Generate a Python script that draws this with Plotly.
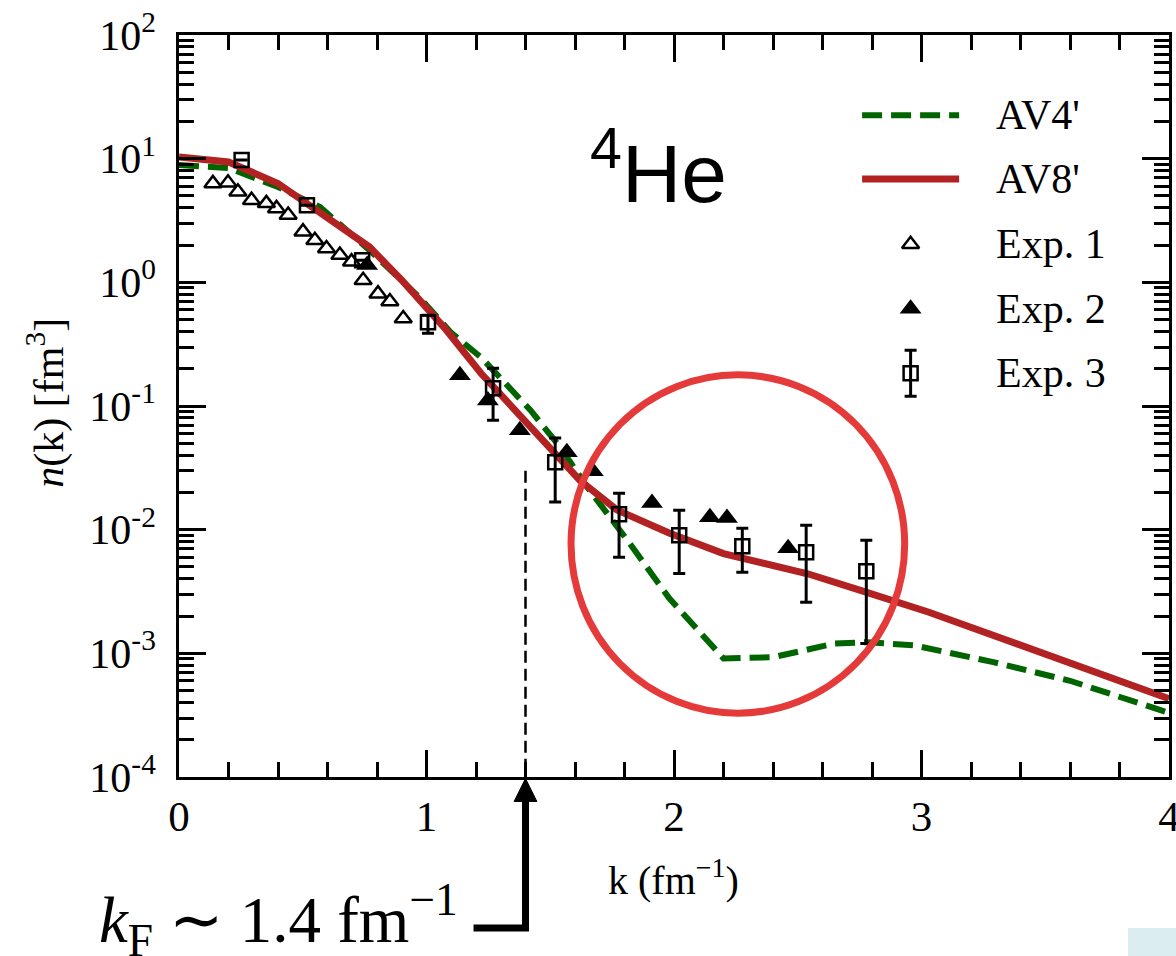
import plotly.graph_objects as go

# ---------------- data ----------------
# AV4' (green dashed) momentum distribution
k_av4 = [0.0, 0.2, 0.4, 0.57, 0.77, 0.97, 1.1, 1.22, 1.42, 1.54, 1.65, 1.82, 1.98, 2.13, 2.2,
         2.4, 2.65, 2.78, 2.97, 3.29, 3.6, 4.0]
n_av4 = [8.9, 8.4, 5.9, 4.06, 1.82, 0.76, 0.39, 0.248, 0.0925, 0.0465, 0.022, 0.0078, 0.0028,
         0.00127, 0.00091, 0.00093, 0.0012, 0.00123, 0.00116, 0.00085, 0.0006, 0.00033]

# AV8' (red solid)
k_av8 = [0.0, 0.2, 0.4, 0.57, 0.77, 0.9, 1.07, 1.22, 1.42, 1.62, 1.77, 1.98, 2.2, 2.54, 2.76,
         3.03, 4.0]
n_av8 = [10.3, 9.4, 6.3, 3.7, 1.93, 1.04, 0.435, 0.184, 0.067, 0.025, 0.0144, 0.0094, 0.0064,
         0.0044, 0.0032, 0.00215, 0.00043]

# Exp. 1 (open triangles)
k_exp1 = [0.137, 0.198, 0.238, 0.293, 0.353, 0.394, 0.441, 0.501, 0.549, 0.596, 0.650, 0.697,
          0.744, 0.804, 0.852, 0.906]
n_exp1 = [6.31, 6.38, 5.40, 4.62, 4.35, 3.96, 3.50, 2.57, 2.19, 1.88, 1.66, 1.47, 1.04, 0.81,
          0.70, 0.51]

# Exp. 2 (filled triangles)
k_exp2 = [0.760, 1.135, 1.248, 1.377, 1.567, 1.672, 1.911, 2.145, 2.214, 2.461]
n_exp2 = [1.38, 0.177, 0.111, 0.0637, 0.0423, 0.0297, 0.0164, 0.0126, 0.0124, 0.00708]

# Exp. 3 (open squares with error bars)
k_exp3 = [0.253, 0.517, 0.740, 1.006, 1.269, 1.52, 1.778, 2.021, 2.276, 2.534, 2.777]
n_exp3 = [9.75, 4.2, 1.51, 0.476, 0.139, 0.0351, 0.0133, 0.00901, 0.00734, 0.00656, 0.0046]
n_exp3_hi = [9.75, 4.2, 1.51, 0.543, 0.202, 0.055, 0.0197, 0.01435, 0.01026, 0.01087, 0.0082]
n_exp3_lo = [9.75, 4.2, 1.51, 0.388, 0.0767, 0.0167, 0.00598, 0.00443, 0.00452, 0.00259, 0.0012]

# Fermi momentum marker
k_fermi = 1.4
fermi_line_top = 0.03

# axis ticks
x_ticks = [0, 1, 2, 3, 4]
y_exponents = [-4, -3, -2, -1, 0, 1, 2]

legend_names = ["AV4'", "AV8'", "Exp. 1", "Exp. 2", "Exp. 3"]

# ---------------- styles ----------------
GREEN = "#006400"
RED = "#b22222"
SERIF = "Liberation Serif"

fig = go.Figure()

fig.add_trace(go.Scatter(x=k_av4, y=n_av4, mode="lines",
                         line=dict(color=GREEN, width=6, dash="20px,9px"), name=legend_names[0]))
fig.add_trace(go.Scatter(x=k_av8, y=n_av8, mode="lines",
                         line=dict(color=RED, width=7), name=legend_names[1]))

fig.add_trace(go.Scatter(x=[k_fermi, k_fermi], y=[fermi_line_top, 1e-4], mode="lines",
                         line=dict(color="black", width=2.5, dash="12px,6px"), showlegend=False))

fig.add_trace(go.Scatter(x=k_exp1, y=n_exp1, mode="markers", name=legend_names[2],
                         marker=dict(symbol="triangle-up-open", size=15, color="black",
                                     line=dict(width=2.5, color="black"))))
fig.add_trace(go.Scatter(x=k_exp2, y=n_exp2, mode="markers", name=legend_names[3],
                         marker=dict(symbol="triangle-up", size=19, color="black")))
fig.add_trace(go.Scatter(
    x=k_exp3, y=n_exp3, mode="markers", name=legend_names[4],
    marker=dict(symbol="square-open", size=14, color="black", line=dict(width=2.5, color="black")),
    error_y=dict(type="data", symmetric=False,
                 array=[h - v for h, v in zip(n_exp3_hi, n_exp3)],
                 arrayminus=[v - l for v, l in zip(n_exp3, n_exp3_lo)],
                 color="black", thickness=3, width=6)))

# ---------------- custom legend (overlay axes spanning the plot area, 0..1) ----------------
leg_line_x = [0.69, 0.788]
leg_rows = [0.892, 0.806, 0.718, 0.631, 0.544]
leg_sym_x = 0.739
leg_text_x = 0.823

fig.add_trace(go.Scatter(x=leg_line_x, y=[leg_rows[0]] * 2, xaxis="x2", yaxis="y2", mode="lines",
                         line=dict(color=GREEN, width=6, dash="20px,9px"), showlegend=False))
fig.add_trace(go.Scatter(x=leg_line_x, y=[leg_rows[1]] * 2, xaxis="x2", yaxis="y2", mode="lines",
                         line=dict(color=RED, width=7), showlegend=False))
fig.add_trace(go.Scatter(x=[leg_sym_x], y=[leg_rows[2]], xaxis="x2", yaxis="y2", mode="markers",
                         marker=dict(symbol="triangle-up-open", size=15, color="black",
                                     line=dict(width=2.5, color="black")),
                         showlegend=False, cliponaxis=False))
fig.add_trace(go.Scatter(x=[leg_sym_x], y=[leg_rows[3]], xaxis="x2", yaxis="y2", mode="markers",
                         marker=dict(symbol="triangle-up", size=19, color="black"),
                         showlegend=False, cliponaxis=False))
fig.add_trace(go.Scatter(x=[leg_sym_x], y=[leg_rows[4]], xaxis="x2", yaxis="y2", mode="markers",
                         marker=dict(symbol="square-open", size=14, color="black",
                                     line=dict(width=2.5, color="black")),
                         error_y=dict(type="constant", value=0.031, color="black", thickness=3, width=6),
                         showlegend=False, cliponaxis=False))

annotations = []
for name, yv in zip(legend_names, leg_rows):
    annotations.append(dict(text=name, xref="paper", yref="paper", x=leg_text_x, y=yv,
                            xanchor="left", yanchor="middle", showarrow=False,
                            font=dict(family=SERIF, size=42, color="black")))

# titles
annotations.append(dict(text="k (fm<sup>\u22121</sup>)", xref="paper", yref="paper", x=0.499, y=-0.136,
                        xanchor="center", yanchor="middle", showarrow=False,
                        font=dict(family=SERIF, size=40, color="black")))
annotations.append(dict(text="<i>n</i>(k) [fm<sup>3</sup>]", xref="paper", yref="paper", x=-0.134, y=0.505,
                        xanchor="center", yanchor="middle", showarrow=False, textangle=-90,
                        font=dict(family=SERIF, size=42, color="black")))
# 4He label
annotations.append(dict(text="<sup>4</sup>He", xref="paper", yref="paper", x=0.413, y=0.822,
                        xanchor="left", yanchor="middle", showarrow=False,
                        font=dict(family="Liberation Sans", size=82, color="black")))
# kF label
annotations.append(dict(text="<i>k</i><sub>F</sub> \u223c 1.4 fm<sup>\u22121</sup>", xref="paper", yref="paper",
                        x=0.284, y=-0.193, xanchor="right", yanchor="middle", showarrow=False,
                        font=dict(family=SERIF, size=65, color="black")))

xf = k_fermi / 4.0
shapes = [
    # red circle highlighting the high-momentum region
    dict(type="circle", xref="paper", yref="paper", x0=0.396, x1=0.733, y0=0.086, y1=0.542,
         line=dict(color="#e53a3a", width=7)),
    # arrow to kF
    dict(type="path", xref="paper", yref="paper",
         path=f"M 0.2975,-0.2035 L {xf},-0.2035 L {xf},-0.03",
         line=dict(color="black", width=7)),
    dict(type="path", xref="paper", yref="paper",
         path=f"M {xf-0.0115},-0.033 L {xf},-0.002 L {xf+0.0115},-0.033 Z",
         fillcolor="black", line=dict(color="black", width=1)),
    # light slide artefact bottom-right
    dict(type="rect", xref="paper", yref="paper", x0=0.9586, x1=1.01, y0=-0.2035, y1=-0.245,
         fillcolor="#dcedf1", line=dict(width=0)),
]

axis_common = dict(ticks="inside", tickcolor="black", tickwidth=2.5, showline=True, linewidth=2.5,
                   linecolor="black", mirror="allticks", showgrid=False, zeroline=False,
                   ticklabeloverflow="allow")

fig.update_layout(
    width=1176, height=956,
    margin=dict(l=179, r=7, t=35, b=179, autoexpand=False),
    plot_bgcolor="white", paper_bgcolor="white",
    showlegend=False,
    annotations=annotations, shapes=shapes,
    xaxis=dict(range=[0, 4], tickvals=x_ticks, ticklen=27, ticklabelstandoff=0,
               tickfont=dict(family=SERIF, size=43, color="black"),
               minor=dict(dtick=0.2, tick0=0, ticks="inside", ticklen=15, tickwidth=2.5,
                          tickcolor="black", showgrid=False),
               **axis_common),
    yaxis=dict(type="log", range=[-4, 2], tickvals=[10.0 ** e for e in y_exponents],
               ticktext=[f"10<sup>{e}</sup>" for e in y_exponents], ticklen=27, ticklabelstandoff=12,
               tickfont=dict(family=SERIF, size=42, color="black"),
               minor=dict(tickvals=[m * 10.0 ** e for e in range(-4, 2) for m in range(2, 10)],
                          ticks="inside", ticklen=15, tickwidth=2.5, tickcolor="black", showgrid=False),
               **axis_common),
    xaxis2=dict(overlaying="x", range=[0, 1], visible=False, anchor="y2"),
    yaxis2=dict(overlaying="y", range=[0, 1], visible=False, anchor="x2"),
)

fig.write_html("out.html", config={"displayModeBar": False},
               post_script="document.body.style.margin='0';document.body.style.overflow='hidden';")
